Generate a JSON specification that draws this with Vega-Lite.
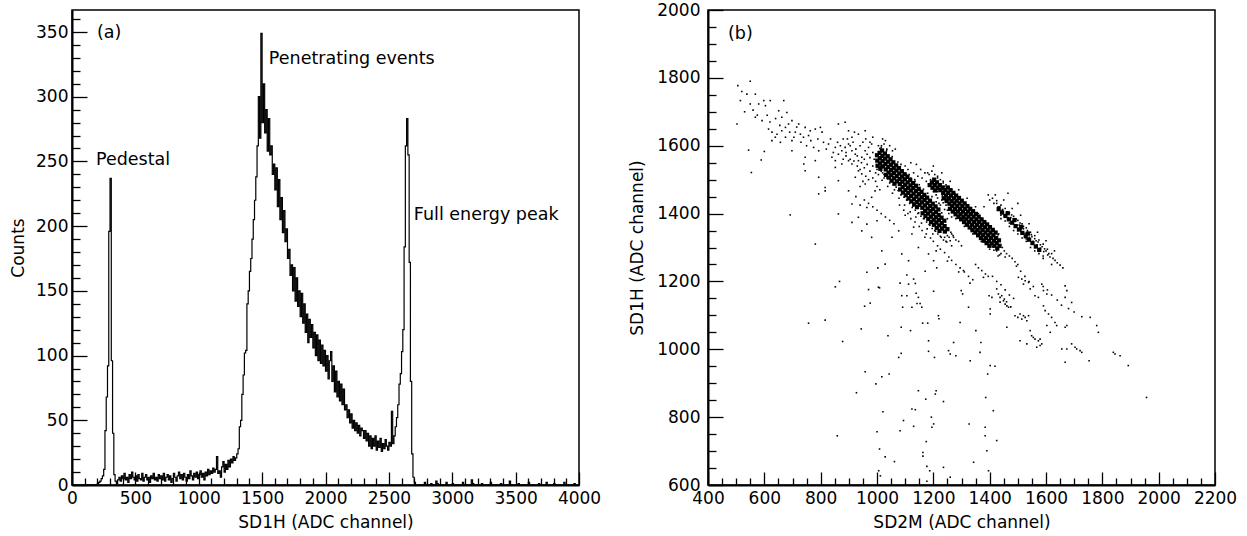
{
"$schema":"https://vega.github.io/schema/vega-lite/v6.json",
"padding":{"left":8,"top":0,"right":5,"bottom":0},
"background":"white",
"config":{"font":"DejaVu Sans","view":{"stroke":"black","strokeWidth":1.5},
"axis":{"grid":false,"domainColor":"black","domainWidth":2,"tickColor":"black","tickWidth":1.3,"labelColor":"black","titleColor":"black","labelFont":"DejaVu Sans","titleFont":"DejaVu Sans","labelFontSize":17,"titleFontSize":17,"titleFontWeight":"normal","labelOverlap":false,"labelFlush":false}},
"bounds":"flush",
"spacing":129,
"hconcat":[
{"width":507,"height":475,
"resolve":{"axis":{"x":"independent","y":"independent"}},
"layer":[
{"data":{"values":[
{"ch":0,"n":0},{"ch":200,"n":1},{"ch":210,"n":2},{"ch":220,"n":3},{"ch":230,"n":5},{"ch":240,"n":7},{"ch":250,"n":12},{"ch":260,"n":42},{"ch":270,"n":68},{"ch":280,"n":92},{"ch":290,"n":196},{"ch":300,"n":237},{"ch":310,"n":96},{"ch":320,"n":40},{"ch":330,"n":8},{"ch":340,"n":3},{"ch":350,"n":1},{"ch":360,"n":4},{"ch":370,"n":6},{"ch":380,"n":3},{"ch":390,"n":7},{"ch":400,"n":5},{"ch":410,"n":9},{"ch":420,"n":4},{"ch":430,"n":6},{"ch":440,"n":2},{"ch":450,"n":8},{"ch":460,"n":5},{"ch":470,"n":10},{"ch":480,"n":6},{"ch":490,"n":4},{"ch":500,"n":7},{"ch":510,"n":3},{"ch":520,"n":8},{"ch":530,"n":5},{"ch":540,"n":4},{"ch":550,"n":9},{"ch":560,"n":3},{"ch":570,"n":6},{"ch":580,"n":8},{"ch":590,"n":4},{"ch":600,"n":6},{"ch":610,"n":2},{"ch":620,"n":7},{"ch":630,"n":5},{"ch":640,"n":9},{"ch":650,"n":4},{"ch":660,"n":6},{"ch":670,"n":3},{"ch":680,"n":8},{"ch":690,"n":5},{"ch":700,"n":7},{"ch":710,"n":4},{"ch":720,"n":9},{"ch":730,"n":3},{"ch":740,"n":6},{"ch":750,"n":8},{"ch":760,"n":4},{"ch":770,"n":7},{"ch":780,"n":2},{"ch":790,"n":5},{"ch":800,"n":9},{"ch":810,"n":6},{"ch":820,"n":3},{"ch":830,"n":7},{"ch":840,"n":10},{"ch":850,"n":5},{"ch":860,"n":8},{"ch":870,"n":4},{"ch":880,"n":9},{"ch":890,"n":6},{"ch":900,"n":3},{"ch":910,"n":8},{"ch":920,"n":5},{"ch":930,"n":11},{"ch":940,"n":7},{"ch":950,"n":4},{"ch":960,"n":9},{"ch":970,"n":6},{"ch":980,"n":10},{"ch":990,"n":5},{"ch":1000,"n":8},{"ch":1010,"n":11},{"ch":1020,"n":6},{"ch":1030,"n":9},{"ch":1040,"n":4},{"ch":1050,"n":10},{"ch":1060,"n":7},{"ch":1070,"n":12},{"ch":1080,"n":8},{"ch":1090,"n":11},{"ch":1100,"n":9},{"ch":1110,"n":13},{"ch":1120,"n":10},{"ch":1130,"n":12},{"ch":1140,"n":22},{"ch":1150,"n":9},{"ch":1160,"n":11},{"ch":1170,"n":6},{"ch":1180,"n":14},{"ch":1190,"n":18},{"ch":1200,"n":10},{"ch":1210,"n":16},{"ch":1220,"n":12},{"ch":1230,"n":19},{"ch":1240,"n":14},{"ch":1250,"n":20},{"ch":1260,"n":17},{"ch":1270,"n":22},{"ch":1280,"n":19},{"ch":1290,"n":21},{"ch":1300,"n":24},{"ch":1310,"n":28},{"ch":1320,"n":45},{"ch":1330,"n":50},{"ch":1340,"n":70},{"ch":1350,"n":85},{"ch":1360,"n":102},{"ch":1370,"n":104},{"ch":1380,"n":140},{"ch":1390,"n":150},{"ch":1400,"n":165},{"ch":1410,"n":175},{"ch":1420,"n":190},{"ch":1430,"n":205},{"ch":1440,"n":220},{"ch":1450,"n":238},{"ch":1460,"n":262},{"ch":1470,"n":300},{"ch":1480,"n":268},{"ch":1490,"n":349},{"ch":1500,"n":280},{"ch":1510,"n":310},{"ch":1520,"n":272},{"ch":1530,"n":290},{"ch":1540,"n":258},{"ch":1550,"n":283},{"ch":1560,"n":255},{"ch":1570,"n":262},{"ch":1580,"n":240},{"ch":1590,"n":248},{"ch":1600,"n":228},{"ch":1610,"n":245},{"ch":1620,"n":215},{"ch":1630,"n":236},{"ch":1640,"n":205},{"ch":1650,"n":222},{"ch":1660,"n":195},{"ch":1670,"n":212},{"ch":1680,"n":188},{"ch":1690,"n":198},{"ch":1700,"n":175},{"ch":1710,"n":182},{"ch":1720,"n":162},{"ch":1730,"n":170},{"ch":1740,"n":150},{"ch":1750,"n":168},{"ch":1760,"n":142},{"ch":1770,"n":160},{"ch":1780,"n":138},{"ch":1790,"n":150},{"ch":1800,"n":130},{"ch":1810,"n":148},{"ch":1820,"n":125},{"ch":1830,"n":140},{"ch":1840,"n":118},{"ch":1850,"n":132},{"ch":1860,"n":110},{"ch":1870,"n":128},{"ch":1880,"n":114},{"ch":1890,"n":124},{"ch":1900,"n":106},{"ch":1910,"n":118},{"ch":1920,"n":100},{"ch":1930,"n":116},{"ch":1940,"n":96},{"ch":1950,"n":112},{"ch":1960,"n":94},{"ch":1970,"n":108},{"ch":1980,"n":92},{"ch":1990,"n":104},{"ch":2000,"n":88},{"ch":2010,"n":100},{"ch":2020,"n":82},{"ch":2030,"n":96},{"ch":2040,"n":103},{"ch":2050,"n":80},{"ch":2060,"n":92},{"ch":2070,"n":72},{"ch":2080,"n":88},{"ch":2090,"n":68},{"ch":2100,"n":80},{"ch":2110,"n":65},{"ch":2120,"n":78},{"ch":2130,"n":62},{"ch":2140,"n":74},{"ch":2150,"n":58},{"ch":2160,"n":62},{"ch":2170,"n":52},{"ch":2180,"n":58},{"ch":2190,"n":48},{"ch":2200,"n":55},{"ch":2210,"n":44},{"ch":2220,"n":50},{"ch":2230,"n":42},{"ch":2240,"n":48},{"ch":2250,"n":40},{"ch":2260,"n":46},{"ch":2270,"n":38},{"ch":2280,"n":44},{"ch":2290,"n":42},{"ch":2300,"n":36},{"ch":2310,"n":42},{"ch":2320,"n":34},{"ch":2330,"n":40},{"ch":2340,"n":30},{"ch":2350,"n":38},{"ch":2360,"n":28},{"ch":2370,"n":36},{"ch":2380,"n":30},{"ch":2390,"n":38},{"ch":2400,"n":27},{"ch":2410,"n":34},{"ch":2420,"n":29},{"ch":2430,"n":36},{"ch":2440,"n":26},{"ch":2450,"n":32},{"ch":2460,"n":28},{"ch":2470,"n":35},{"ch":2480,"n":30},{"ch":2490,"n":27},{"ch":2500,"n":33},{"ch":2510,"n":30},{"ch":2520,"n":57},{"ch":2530,"n":32},{"ch":2540,"n":38},{"ch":2550,"n":45},{"ch":2560,"n":52},{"ch":2570,"n":62},{"ch":2580,"n":78},{"ch":2590,"n":86},{"ch":2600,"n":103},{"ch":2610,"n":120},{"ch":2620,"n":184},{"ch":2630,"n":262},{"ch":2640,"n":283},{"ch":2650,"n":255},{"ch":2660,"n":172},{"ch":2670,"n":80},{"ch":2680,"n":24},{"ch":2690,"n":6},{"ch":2700,"n":2},{"ch":2710,"n":0},{"ch":2780,"n":2},{"ch":2790,"n":0},{"ch":2830,"n":1},{"ch":2840,"n":0},{"ch":2870,"n":3},{"ch":2880,"n":1},{"ch":2890,"n":0},{"ch":2950,"n":2},{"ch":2960,"n":0},{"ch":3000,"n":1},{"ch":3010,"n":0},{"ch":3080,"n":2},{"ch":3090,"n":0},{"ch":3150,"n":4},{"ch":3160,"n":1},{"ch":3170,"n":0},{"ch":3230,"n":1},{"ch":3240,"n":0},{"ch":3300,"n":2},{"ch":3310,"n":0},{"ch":3380,"n":1},{"ch":3390,"n":0},{"ch":3450,"n":3},{"ch":3460,"n":0},{"ch":3520,"n":1},{"ch":3530,"n":0},{"ch":3600,"n":2},{"ch":3610,"n":0},{"ch":3680,"n":1},{"ch":3690,"n":0},{"ch":3740,"n":2},{"ch":3750,"n":0},{"ch":3800,"n":1},{"ch":3810,"n":0},{"ch":3880,"n":2},{"ch":3890,"n":0},{"ch":3960,"n":1},{"ch":3970,"n":0},{"ch":4000,"n":0}
]},
"mark":{"type":"line","interpolate":"step-after","color":"black","strokeWidth":1.2},
"encoding":{
"x":{"field":"ch","type":"quantitative","scale":{"domain":[0,4000],"nice":false,"zero":false},
"axis":{"orient":"bottom","title":"SD1H (ADC channel)","format":"d","labelOverlap":false,"tickCount":200,"tickSize":-13,"values":[0,500,1000,1500,2000,2500,3000,3500,4000],"labelPadding":18,"titlePadding":8}},
"y":{"field":"n","type":"quantitative","scale":{"domain":[0,367],"nice":false},
"axis":{"orient":"left","title":"Counts","format":"d","labelOverlap":false,"tickCount":200,"tickSize":-15,"values":[0,50,100,150,200,250,300,350],"labelPadding":19,"titlePadding":8}}}},
{"data":{"values":[{"ch":197,"n":345,"label":"(a)"},{"ch":189,"n":247,"label":"Pedestal"},{"ch":1553,"n":325,"label":"Penetrating events"},{"ch":2697,"n":205,"label":"Full energy peak"}]},
"mark":{"type":"text","align":"left","baseline":"alphabetic","fontSize":17.5,"font":"DejaVu Sans","color":"black"},
"encoding":{
"x":{"field":"ch","type":"quantitative","axis":{"orient":"bottom","title":null,"labels":false,"domain":false,"tickCount":200,"tickSize":-7,"values":[100,200,300,400,600,700,800,900,1100,1200,1300,1400,1600,1700,1800,1900,2100,2200,2300,2400,2600,2700,2800,2900,3100,3200,3300,3400,3600,3700,3800,3900]}},
"y":{"field":"n","type":"quantitative","axis":{"orient":"left","title":null,"labels":false,"domain":false,"tickCount":200,"tickSize":-8,"values":[10,20,30,40,60,70,80,90,110,120,130,140,160,170,180,190,210,220,230,240,260,270,280,290,310,320,330,340,360]}},
"text":{"field":"label"}}}
]},
{"width":507,"height":475,
"resolve":{"axis":{"x":"independent","y":"independent"}},
"layer":[
{"data":{"values":[
{"x":506,"y":1777},{"x":550,"y":1790},{"x":538,"y":1752},{"x":515,"y":1733},{"x":550,"y":1723},{"x":568,"y":1752},{"x":580,"y":1723},{"x":598,"y":1733},{"x":604,"y":1718},{"x":621,"y":1733},{"x":568,"y":1684},{"x":592,"y":1674},{"x":503,"y":1664},{"x":544,"y":1587},{"x":600,"y":1583},{"x":589,"y":1558},{"x":554,"y":1521},{"x":615,"y":1649},{"x":627,"y":1640},{"x":645,"y":1634},{"x":662,"y":1644},{"x":675,"y":1654},{"x":686,"y":1664},{"x":698,"y":1674},{"x":651,"y":1703},{"x":669,"y":1733},{"x":680,"y":1698},{"x":662,"y":1684},{"x":639,"y":1625},{"x":675,"y":1625},{"x":698,"y":1615},{"x":627,"y":1615},{"x":657,"y":1610},{"x":722,"y":1664},{"x":745,"y":1654},{"x":763,"y":1644},{"x":728,"y":1634},{"x":710,"y":1640},{"x":739,"y":1625},{"x":757,"y":1630},{"x":781,"y":1649},{"x":799,"y":1654},{"x":805,"y":1640},{"x":698,"y":1585},{"x":745,"y":1566},{"x":781,"y":1556},{"x":793,"y":1585},{"x":828,"y":1605},{"x":852,"y":1595},{"x":863,"y":1664},{"x":887,"y":1669},{"x":899,"y":1644},{"x":911,"y":1625},{"x":934,"y":1634},{"x":958,"y":1644},{"x":740,"y":1546},{"x":745,"y":1526},{"x":793,"y":1507},{"x":816,"y":1477},{"x":793,"y":1458},{"x":840,"y":1566},{"x":852,"y":1556},{"x":863,"y":1575},{"x":875,"y":1585},{"x":887,"y":1595},{"x":899,"y":1605},{"x":911,"y":1585},{"x":923,"y":1575},{"x":852,"y":1536},{"x":875,"y":1546},{"x":899,"y":1556},{"x":911,"y":1546},{"x":934,"y":1556},{"x":946,"y":1566},{"x":958,"y":1585},{"x":970,"y":1595},{"x":981,"y":1605},{"x":863,"y":1497},{"x":899,"y":1467},{"x":923,"y":1507},{"x":934,"y":1526},{"x":946,"y":1517},{"x":958,"y":1487},{"x":911,"y":1428},{"x":934,"y":1389},{"x":964,"y":1418},{"x":981,"y":1448},{"x":993,"y":1467},{"x":816,"y":1467},{"x":692,"y":1396},{"x":781,"y":1310},{"x":863,"y":1399},{"x":911,"y":1374},{"x":964,"y":1369},{"x":1000,"y":1379},{"x":981,"y":1330},{"x":1017,"y":1290},{"x":1053,"y":1330},{"x":1077,"y":1349},{"x":1124,"y":1340},{"x":1147,"y":1300},{"x":1183,"y":1281},{"x":1201,"y":1261},{"x":1088,"y":1281},{"x":1112,"y":1261},{"x":1029,"y":1251},
{"x":520,"y":1760},{"x":530,"y":1700},{"x":560,"y":1705},{"x":575,"y":1690},{"x":610,"y":1690},{"x":620,"y":1670},{"x":640,"y":1680},{"x":655,"y":1660},{"x":690,"y":1640},{"x":705,"y":1625},{"x":715,"y":1655},{"x":730,"y":1610},{"x":750,"y":1600},{"x":765,"y":1615},{"x":775,"y":1595},{"x":790,"y":1620},{"x":810,"y":1610},{"x":820,"y":1590},{"x":835,"y":1620},{"x":845,"y":1580},{"x":860,"y":1610},{"x":870,"y":1600},{"x":880,"y":1620},{"x":890,"y":1580},{"x":905,"y":1600},{"x":915,"y":1610},{"x":925,"y":1590},{"x":940,"y":1600},{"x":950,"y":1610},{"x":960,"y":1620},{"x":975,"y":1610},{"x":985,"y":1625},{"x":920,"y":1640},{"x":895,"y":1620},{"x":880,"y":1560},{"x":890,"y":1570},{"x":905,"y":1560},{"x":918,"y":1555},{"x":930,"y":1570},{"x":945,"y":1550},{"x":955,"y":1560},{"x":965,"y":1575},{"x":975,"y":1565},{"x":985,"y":1580},{"x":990,"y":1560},{"x":930,"y":1540},{"x":940,"y":1530},{"x":955,"y":1535},{"x":965,"y":1545},{"x":975,"y":1525},{"x":985,"y":1540},{"x":995,"y":1520},{"x":960,"y":1510},{"x":970,"y":1500},{"x":985,"y":1505},{"x":995,"y":1495},{"x":950,"y":1495},{"x":940,"y":1480},{"x":1000,"y":1480},{"x":1010,"y":1470},{"x":1005,"y":1600},{"x":1015,"y":1595},{"x":1025,"y":1605},{"x":1035,"y":1590},{"x":1045,"y":1600},{"x":1055,"y":1585},{"x":1065,"y":1590},{"x":1030,"y":1615},{"x":1020,"y":1620},
{"x":1000,"y":1530},{"x":1005,"y":1515},{"x":1012,"y":1540},{"x":1020,"y":1520},{"x":1025,"y":1505},{"x":1018,"y":1498},{"x":1030,"y":1528},{"x":1040,"y":1505},{"x":1045,"y":1490},{"x":1038,"y":1480},{"x":1050,"y":1512},{"x":1060,"y":1488},{"x":1062,"y":1470},{"x":1068,"y":1495},{"x":1055,"y":1460},{"x":1080,"y":1470},{"x":1085,"y":1455},{"x":1078,"y":1445},{"x":1090,"y":1478},{"x":1100,"y":1452},{"x":1105,"y":1440},{"x":1098,"y":1425},{"x":1110,"y":1460},{"x":1120,"y":1435},{"x":1125,"y":1418},{"x":1118,"y":1405},{"x":1130,"y":1440},{"x":1140,"y":1418},{"x":1145,"y":1400},{"x":1138,"y":1390},{"x":1150,"y":1425},{"x":1160,"y":1400},{"x":1165,"y":1385},{"x":1158,"y":1372},{"x":1170,"y":1405},{"x":1180,"y":1383},{"x":1185,"y":1368},{"x":1178,"y":1355},{"x":1190,"y":1388},{"x":1200,"y":1365},{"x":1205,"y":1350},{"x":1198,"y":1340},{"x":1210,"y":1370},{"x":1220,"y":1348},{"x":1225,"y":1333},{"x":1230,"y":1352},{"x":1240,"y":1330},{"x":1245,"y":1318},{"x":1250,"y":1335},{"x":1260,"y":1320},{"x":1265,"y":1305},{"x":1270,"y":1335},
{"x":1080,"y":1425},{"x":1095,"y":1410},{"x":1110,"y":1400},{"x":1120,"y":1385},{"x":1135,"y":1375},{"x":1150,"y":1362},{"x":1160,"y":1350},{"x":1175,"y":1340},{"x":1190,"y":1328},{"x":1200,"y":1318},{"x":1215,"y":1305},{"x":1225,"y":1295},{"x":1240,"y":1285},{"x":1255,"y":1272},{"x":1265,"y":1262},{"x":1280,"y":1250},{"x":1295,"y":1240},{"x":1310,"y":1228},{"x":1325,"y":1215},{"x":1340,"y":1205},{"x":1100,"y":1395},{"x":1130,"y":1360},{"x":1170,"y":1330},{"x":1210,"y":1290},{"x":1250,"y":1260},{"x":1290,"y":1228},{"x":1330,"y":1195},{"x":1265,"y":1340},{"x":1272,"y":1330},{"x":1280,"y":1322},{"x":1290,"y":1318},{"x":1300,"y":1305},
{"x":1070,"y":1540},{"x":1090,"y":1525},{"x":1105,"y":1515},{"x":1120,"y":1505},{"x":1135,"y":1495},{"x":1150,"y":1485},{"x":1165,"y":1472},{"x":1180,"y":1460},{"x":1195,"y":1450},{"x":1210,"y":1435},{"x":1225,"y":1425},{"x":1240,"y":1412},{"x":1255,"y":1400},{"x":1265,"y":1390},{"x":1110,"y":1530},{"x":1130,"y":1520},{"x":1145,"y":1510},{"x":1160,"y":1505},{"x":1175,"y":1495},{"x":1085,"y":1545},{"x":1100,"y":1540},{"x":1120,"y":1550},{"x":1140,"y":1545},{"x":1155,"y":1530},{"x":1170,"y":1520},{"x":1185,"y":1515},
{"x":1180,"y":1520},{"x":1195,"y":1525},{"x":1205,"y":1515},{"x":1215,"y":1510},{"x":1225,"y":1500},{"x":1235,"y":1495},{"x":1245,"y":1485},{"x":1255,"y":1478},{"x":1265,"y":1470},{"x":1275,"y":1462},{"x":1285,"y":1452},{"x":1295,"y":1445},{"x":1310,"y":1432},{"x":1325,"y":1420},{"x":1340,"y":1408},{"x":1355,"y":1398},{"x":1370,"y":1385},{"x":1385,"y":1375},{"x":1400,"y":1362},{"x":1415,"y":1350},{"x":1430,"y":1338},{"x":1200,"y":1540},{"x":1230,"y":1520},{"x":1260,"y":1495},{"x":1290,"y":1470},{"x":1320,"y":1445},{"x":1350,"y":1420},
{"x":1200,"y":1465},{"x":1210,"y":1455},{"x":1230,"y":1440},{"x":1245,"y":1425},{"x":1260,"y":1415},{"x":1275,"y":1405},{"x":1290,"y":1395},{"x":1305,"y":1383},{"x":1320,"y":1372},{"x":1335,"y":1360},{"x":1350,"y":1348},{"x":1365,"y":1338},{"x":1380,"y":1325},{"x":1395,"y":1315},{"x":1410,"y":1302},{"x":1425,"y":1290},{"x":1440,"y":1282},{"x":1455,"y":1272},{"x":1220,"y":1430},{"x":1250,"y":1410},{"x":1280,"y":1385},{"x":1310,"y":1362},{"x":1340,"y":1340},{"x":1370,"y":1318},{"x":1400,"y":1295},{"x":1430,"y":1275},
{"x":1190,"y":1500},{"x":1198,"y":1488},{"x":1205,"y":1495},{"x":1212,"y":1480},{"x":1220,"y":1488},{"x":1228,"y":1475},{"x":1235,"y":1470},{"x":1240,"y":1480},{"x":1250,"y":1465},{"x":1215,"y":1465},{"x":1205,"y":1470},{"x":1200,"y":1478},{"x":1245,"y":1445},{"x":1255,"y":1440},{"x":1232,"y":1452},
{"x":1445,"y":1300},{"x":1452,"y":1290},{"x":1460,"y":1282},{"x":1470,"y":1275},{"x":1480,"y":1268},{"x":1490,"y":1258},{"x":1500,"y":1250},
{"x":1400,"y":1440},{"x":1410,"y":1445},{"x":1415,"y":1430},{"x":1425,"y":1438},{"x":1430,"y":1420},{"x":1440,"y":1425},{"x":1445,"y":1410},{"x":1455,"y":1415},{"x":1460,"y":1400},{"x":1470,"y":1402},{"x":1475,"y":1388},{"x":1485,"y":1392},{"x":1490,"y":1378},{"x":1500,"y":1380},{"x":1505,"y":1366},{"x":1515,"y":1370},{"x":1520,"y":1355},{"x":1530,"y":1358},{"x":1535,"y":1345},{"x":1545,"y":1345},{"x":1550,"y":1332},{"x":1560,"y":1335},{"x":1565,"y":1320},{"x":1575,"y":1322},{"x":1580,"y":1308},{"x":1590,"y":1310},{"x":1595,"y":1296},{"x":1605,"y":1295},{"x":1610,"y":1282},{"x":1620,"y":1282},{"x":1625,"y":1268},{"x":1632,"y":1262},{"x":1640,"y":1255},{"x":1650,"y":1248},{"x":1660,"y":1240},{"x":1395,"y":1455},{"x":1420,"y":1455},{"x":1450,"y":1440},{"x":1480,"y":1415},{"x":1510,"y":1395},{"x":1540,"y":1370},{"x":1570,"y":1345},{"x":1600,"y":1320},{"x":1630,"y":1290},{"x":1440,"y":1395},{"x":1470,"y":1372},{"x":1500,"y":1350},{"x":1530,"y":1325},{"x":1560,"y":1300},{"x":1590,"y":1275},{"x":1620,"y":1250},{"x":1380,"y":1420},{"x":1360,"y":1400},{"x":1465,"y":1460},{"x":1500,"y":1430},
{"x":1425,"y":1430},{"x":1436,"y":1420},{"x":1446,"y":1412},{"x":1452,"y":1396},{"x":1462,"y":1405},{"x":1466,"y":1388},{"x":1478,"y":1396},{"x":1482,"y":1378},{"x":1494,"y":1384},{"x":1498,"y":1366},{"x":1508,"y":1372},{"x":1512,"y":1352},{"x":1520,"y":1362},{"x":1526,"y":1342},{"x":1534,"y":1350},{"x":1540,"y":1330},{"x":1548,"y":1338},{"x":1554,"y":1318},{"x":1560,"y":1326},{"x":1568,"y":1308},{"x":1572,"y":1316},{"x":1580,"y":1298},{"x":1586,"y":1302},{"x":1592,"y":1288},{"x":1600,"y":1290},{"x":1606,"y":1278},{"x":1614,"y":1272},{"x":1440,"y":1385},{"x":1455,"y":1378},{"x":1470,"y":1362},{"x":1485,"y":1350},{"x":1500,"y":1340},{"x":1515,"y":1328},{"x":1530,"y":1318},{"x":1545,"y":1300},{"x":1560,"y":1290},{"x":1575,"y":1282},{"x":1590,"y":1268},
{"x":1010,"y":1592},{"x":1016,"y":1600},{"x":1030,"y":1576},{"x":1034,"y":1585},{"x":1050,"y":1560},{"x":1054,"y":1568},{"x":1074,"y":1552},{"x":1090,"y":1528},{"x":1094,"y":1520},{"x":1110,"y":1508},{"x":1114,"y":1515},{"x":1130,"y":1492},{"x":1134,"y":1500},{"x":1150,"y":1475},{"x":1154,"y":1470},{"x":1170,"y":1457},{"x":1174,"y":1450},{"x":1190,"y":1440},{"x":1210,"y":1420},{"x":1230,"y":1402},{"x":1250,"y":1385},
{"x":1005,"y":1535},{"x":1015,"y":1525},{"x":1025,"y":1515},{"x":1035,"y":1505},{"x":1048,"y":1495},{"x":1058,"y":1485},{"x":1068,"y":1478},{"x":1075,"y":1468},{"x":1088,"y":1458},{"x":1096,"y":1448},{"x":1108,"y":1440},{"x":1116,"y":1430},{"x":1128,"y":1422},{"x":1136,"y":1410},{"x":1148,"y":1402},{"x":1156,"y":1392},{"x":1168,"y":1385},{"x":1176,"y":1375},{"x":1188,"y":1366},{"x":1196,"y":1356},{"x":1208,"y":1348},{"x":1216,"y":1340},{"x":1228,"y":1330},{"x":1236,"y":1322},{"x":1248,"y":1316},{"x":1256,"y":1330},{"x":1262,"y":1345},
{"x":1215,"y":1505},{"x":1235,"y":1490},{"x":1255,"y":1475},{"x":1275,"y":1458},{"x":1295,"y":1443},{"x":1315,"y":1428},{"x":1335,"y":1412},{"x":1355,"y":1398},{"x":1375,"y":1382},{"x":1395,"y":1366},{"x":1415,"y":1352},{"x":1432,"y":1340},{"x":1215,"y":1446},{"x":1235,"y":1432},{"x":1255,"y":1415},{"x":1275,"y":1400},{"x":1295,"y":1385},{"x":1315,"y":1370},{"x":1335,"y":1353},{"x":1355,"y":1338},{"x":1375,"y":1322},{"x":1395,"y":1308},{"x":1415,"y":1292},{"x":1435,"y":1278},
{"x":757,"y":1077},{"x":816,"y":1086},{"x":852,"y":1184},{"x":867,"y":1200},{"x":878,"y":1023},{"x":859,"y":745},{"x":927,"y":872},{"x":944,"y":1060},{"x":958,"y":934},{"x":964,"y":1227},{"x":970,"y":1176},{"x":956,"y":1127},{"x":976,"y":1136},{"x":1003,"y":1240},{"x":1009,"y":1181},{"x":996,"y":898},{"x":1000,"y":757},{"x":1009,"y":706},{"x":1021,"y":816},{"x":1029,"y":683},{"x":1017,"y":919},{"x":1039,"y":1040},{"x":1043,"y":927},{"x":1006,"y":642},{"x":1012,"y":627},{"x":1062,"y":669},{"x":1077,"y":976},{"x":1082,"y":1195},{"x":1088,"y":1158},{"x":1091,"y":1124},{"x":1086,"y":1065},{"x":1086,"y":988},{"x":1094,"y":790},{"x":1082,"y":760},{"x":1106,"y":1219},{"x":1106,"y":1158},{"x":1112,"y":1192},{"x":1119,"y":1055},{"x":1130,"y":1207},{"x":1136,"y":1194},{"x":1139,"y":1165},{"x":1147,"y":1153},{"x":1153,"y":1135},{"x":1159,"y":1124},{"x":1142,"y":1135},{"x":1124,"y":1124},{"x":1130,"y":773},{"x":1124,"y":824},{"x":1136,"y":822},{"x":1147,"y":878},{"x":1162,"y":1077},{"x":1173,"y":853},{"x":1177,"y":611},{"x":1180,"y":1077},{"x":1183,"y":1025},{"x":1183,"y":994},{"x":1175,"y":728},{"x":1163,"y":696},{"x":1163,"y":685},{"x":1171,"y":1230},{"x":1201,"y":1171},{"x":1195,"y":770},{"x":1201,"y":780},{"x":1193,"y":800},{"x":1207,"y":868},{"x":1187,"y":642},{"x":1177,"y":655},{"x":1204,"y":976},{"x":1210,"y":878},{"x":1212,"y":1240},
{"x":1218,"y":1099},{"x":1220,"y":1090},{"x":1236,"y":846},{"x":1236,"y":652},{"x":1254,"y":996},{"x":1260,"y":986},{"x":1260,"y":623},{"x":1272,"y":1020},{"x":1280,"y":981},{"x":1295,"y":1079},{"x":1299,"y":1173},{"x":1304,"y":1163},{"x":1307,"y":1232},{"x":1325,"y":1124},{"x":1327,"y":780},{"x":1331,"y":966},{"x":1343,"y":667},{"x":1351,"y":1055},{"x":1366,"y":991},{"x":1369,"y":1020},{"x":1378,"y":1212},{"x":1384,"y":770},{"x":1384,"y":745},{"x":1386,"y":858},{"x":1390,"y":701},{"x":1393,"y":927},{"x":1396,"y":642},{"x":1398,"y":1158},{"x":1402,"y":952},{"x":1413,"y":819},{"x":1419,"y":950},{"x":1425,"y":731},{"x":1402,"y":1119},{"x":1408,"y":1153},{"x":1402,"y":1104},
{"x":1425,"y":1178},{"x":1431,"y":1163},{"x":1437,"y":1153},{"x":1443,"y":1158},{"x":1449,"y":1143},{"x":1455,"y":1133},{"x":1461,"y":1128},{"x":1467,"y":1124},{"x":1437,"y":1139},{"x":1452,"y":1148},{"x":1461,"y":1065},
{"x":1490,"y":1099},{"x":1500,"y":1094},{"x":1508,"y":1104},{"x":1514,"y":1089},{"x":1526,"y":1094},{"x":1532,"y":1084},{"x":1538,"y":1099},{"x":1520,"y":1099},{"x":1508,"y":1025},{"x":1532,"y":1016},{"x":1544,"y":1055},{"x":1549,"y":1040},{"x":1555,"y":1035},{"x":1561,"y":1030},{"x":1573,"y":1025},{"x":1579,"y":1011},
{"x":1502,"y":1212},{"x":1514,"y":1207},{"x":1526,"y":1202},{"x":1538,"y":1197},{"x":1520,"y":1192},{"x":1544,"y":1178},{"x":1561,"y":1158},{"x":1573,"y":1153},{"x":1591,"y":1128},{"x":1597,"y":1114},{"x":1609,"y":1104},{"x":1620,"y":1094},{"x":1632,"y":1079},{"x":1638,"y":1070},{"x":1668,"y":1065},{"x":1674,"y":1070},{"x":1591,"y":1173},{"x":1603,"y":1163},{"x":1585,"y":1192},{"x":1668,"y":1187},{"x":1674,"y":1173},{"x":1691,"y":1138},{"x":1668,"y":1153},
{"x":1656,"y":1001},{"x":1674,"y":1001},{"x":1691,"y":1016},{"x":1703,"y":1006},{"x":1709,"y":1001},{"x":1721,"y":996},{"x":1727,"y":991},{"x":1668,"y":962},{"x":1727,"y":1096},{"x":1757,"y":1094},{"x":1753,"y":966},{"x":1780,"y":1070},{"x":1786,"y":1050},{"x":1839,"y":991},{"x":1845,"y":986},{"x":1863,"y":981},{"x":1892,"y":952},{"x":1957,"y":858},{"x":1603,"y":1070},{"x":1615,"y":1050},{"x":1579,"y":1030},{"x":1585,"y":1016},{"x":1567,"y":1006},
{"x":1350,"y":1250},{"x":1360,"y":1240},{"x":1372,"y":1232},{"x":1385,"y":1222},{"x":1395,"y":1215},{"x":1410,"y":1215},{"x":1425,"y":1200},{"x":1440,"y":1190},{"x":1455,"y":1175},{"x":1470,"y":1160},{"x":1485,"y":1150},{"x":1460,"y":1140},{"x":1475,"y":1125},{"x":1495,"y":1245},{"x":1510,"y":1230},{"x":1525,"y":1215},{"x":1540,"y":1200},{"x":1555,"y":1185},{"x":1590,"y":1185},{"x":1605,"y":1175},{"x":1620,"y":1160},{"x":1640,"y":1145},{"x":1655,"y":1130},{"x":1680,"y":1120},{"x":1700,"y":1110},{"x":946,"y":1349},{"x":1005,"y":1183},{"x":925,"y":1450},{"x":940,"y":1425},{"x":955,"y":1440},{"x":970,"y":1430},{"x":985,"y":1420},{"x":1000,"y":1410},{"x":1015,"y":1400},{"x":1030,"y":1390},{"x":1045,"y":1380},{"x":1060,"y":1370}
]},
"mark":{"type":"square","size":2.5,"color":"black","opacity":1},
"encoding":{
"x":{"field":"x","type":"quantitative","scale":{"domain":[400,2200],"nice":false,"zero":false},
"axis":{"orient":"bottom","title":"SD2M (ADC channel)","format":"d","labelOverlap":false,"tickCount":200,"tickSize":-13,"values":[400,600,800,1000,1200,1400,1600,1800,2000,2200],"labelPadding":18,"titlePadding":8}},
"y":{"field":"y","type":"quantitative","scale":{"domain":[600,2000],"nice":false,"zero":false},
"axis":{"orient":"left","title":"SD1H (ADC channel)","format":"d","labelOverlap":false,"tickCount":200,"tickSize":-15,"values":[600,800,1000,1200,1400,1600,1800,2000],"labelPadding":23,"titlePadding":10}}}},
{"data":{"values":[
{"x":1000,"y":1572},{"x":1010,"y":1563},{"x":1020,"y":1555},{"x":1030,"y":1546},{"x":1040,"y":1537},{"x":1050,"y":1528},{"x":1060,"y":1520},{"x":1070,"y":1511},{"x":1080,"y":1502},{"x":1090,"y":1494},{"x":1100,"y":1485},{"x":1110,"y":1476},{"x":1120,"y":1468},{"x":1130,"y":1459},{"x":1140,"y":1450},{"x":1150,"y":1441},{"x":1160,"y":1433},{"x":1170,"y":1424},{"x":1180,"y":1415},{"x":1190,"y":1407},{"x":1200,"y":1398},{"x":1210,"y":1389},{"x":1220,"y":1381},{"x":1230,"y":1372},{"x":1240,"y":1363},{"x":1250,"y":1354},
{"x":1009,"y":1579},{"x":1019,"y":1570},{"x":1029,"y":1562},{"x":1039,"y":1553},{"x":1049,"y":1544},{"x":1059,"y":1535},{"x":1069,"y":1527},{"x":1079,"y":1518},{"x":1089,"y":1509},{"x":1099,"y":1501},{"x":1109,"y":1492},{"x":1119,"y":1483},{"x":1129,"y":1475},{"x":1139,"y":1466},{"x":1149,"y":1457},{"x":1159,"y":1448},{"x":1169,"y":1440},{"x":1179,"y":1431},{"x":1189,"y":1422},{"x":1199,"y":1414},{"x":1209,"y":1405},{"x":1219,"y":1396},{"x":1229,"y":1388},{"x":1239,"y":1379},
{"x":1001,"y":1556},{"x":1011,"y":1548},{"x":1021,"y":1539},{"x":1031,"y":1530},{"x":1041,"y":1521},{"x":1051,"y":1513},{"x":1061,"y":1504},{"x":1071,"y":1495},{"x":1081,"y":1487},{"x":1091,"y":1478},{"x":1101,"y":1469},{"x":1111,"y":1461},{"x":1121,"y":1452},{"x":1131,"y":1443},{"x":1141,"y":1434},{"x":1151,"y":1426},{"x":1161,"y":1417},{"x":1171,"y":1408},{"x":1181,"y":1400},{"x":1191,"y":1391},{"x":1201,"y":1382},{"x":1211,"y":1374},{"x":1221,"y":1365},{"x":1231,"y":1356},{"x":1241,"y":1347},
{"x":1018,"y":1586},{"x":1028,"y":1577},{"x":1038,"y":1569},{"x":1048,"y":1560},{"x":1058,"y":1551},{"x":1068,"y":1542},{"x":1078,"y":1534},{"x":1088,"y":1525},{"x":1098,"y":1516},{"x":1108,"y":1508},{"x":1118,"y":1499},{"x":1128,"y":1490},{"x":1138,"y":1482},{"x":1148,"y":1473},{"x":1158,"y":1464},{"x":1168,"y":1455},{"x":1178,"y":1447},{"x":1188,"y":1438},{"x":1198,"y":1429},{"x":1208,"y":1421},{"x":1218,"y":1412},
{"x":1002,"y":1541},{"x":1012,"y":1532},{"x":1032,"y":1514},{"x":1042,"y":1506},{"x":1052,"y":1497},{"x":1062,"y":1488},{"x":1082,"y":1471},{"x":1092,"y":1462},{"x":1102,"y":1454},{"x":1112,"y":1445},{"x":1122,"y":1436},{"x":1132,"y":1427},{"x":1142,"y":1419},{"x":1162,"y":1401},{"x":1172,"y":1393},{"x":1182,"y":1384},{"x":1192,"y":1375},{"x":1202,"y":1367},{"x":1212,"y":1358},{"x":1222,"y":1349},
{"x":1195,"y":1492},{"x":1205,"y":1484},{"x":1215,"y":1476},{"x":1225,"y":1469},{"x":1235,"y":1461},{"x":1245,"y":1453},{"x":1255,"y":1445},{"x":1265,"y":1437},{"x":1275,"y":1430},{"x":1285,"y":1422},{"x":1295,"y":1414},{"x":1305,"y":1406},{"x":1315,"y":1398},{"x":1325,"y":1391},{"x":1335,"y":1383},{"x":1345,"y":1375},{"x":1355,"y":1367},{"x":1365,"y":1359},{"x":1375,"y":1352},{"x":1385,"y":1344},{"x":1395,"y":1336},{"x":1405,"y":1328},{"x":1415,"y":1320},{"x":1425,"y":1313},{"x":1435,"y":1305},
{"x":1203,"y":1500},{"x":1213,"y":1492},{"x":1223,"y":1484},{"x":1233,"y":1477},{"x":1243,"y":1469},{"x":1253,"y":1461},{"x":1263,"y":1453},{"x":1273,"y":1445},{"x":1283,"y":1438},{"x":1293,"y":1430},{"x":1303,"y":1422},{"x":1313,"y":1414},{"x":1323,"y":1406},{"x":1333,"y":1399},{"x":1343,"y":1391},{"x":1353,"y":1383},{"x":1363,"y":1375},{"x":1373,"y":1367},{"x":1383,"y":1360},{"x":1393,"y":1352},{"x":1403,"y":1344},{"x":1413,"y":1336},{"x":1423,"y":1328},{"x":1433,"y":1321},
{"x":1187,"y":1484},{"x":1197,"y":1476},{"x":1207,"y":1468},{"x":1237,"y":1445},{"x":1247,"y":1437},{"x":1257,"y":1429},{"x":1267,"y":1422},{"x":1277,"y":1414},{"x":1287,"y":1406},{"x":1297,"y":1398},{"x":1307,"y":1390},{"x":1317,"y":1383},{"x":1327,"y":1375},{"x":1337,"y":1367},{"x":1347,"y":1359},{"x":1357,"y":1351},{"x":1367,"y":1344},{"x":1377,"y":1336},{"x":1387,"y":1328},{"x":1397,"y":1320},{"x":1407,"y":1312},{"x":1417,"y":1305},{"x":1427,"y":1297},
{"x":1251,"y":1477},{"x":1261,"y":1469},{"x":1271,"y":1461},{"x":1281,"y":1453},{"x":1291,"y":1446},{"x":1301,"y":1438},{"x":1311,"y":1430},{"x":1321,"y":1422},{"x":1331,"y":1414},{"x":1341,"y":1407},{"x":1351,"y":1399},{"x":1361,"y":1391},{"x":1371,"y":1383},{"x":1381,"y":1375},{"x":1391,"y":1368},{"x":1401,"y":1360},{"x":1411,"y":1352},{"x":1421,"y":1344},
{"x":1259,"y":1414},{"x":1269,"y":1406},{"x":1279,"y":1398},{"x":1289,"y":1390},{"x":1299,"y":1383},{"x":1309,"y":1375},{"x":1319,"y":1367},{"x":1329,"y":1359},{"x":1339,"y":1351},{"x":1349,"y":1344},{"x":1359,"y":1336},{"x":1369,"y":1328},{"x":1379,"y":1320},{"x":1389,"y":1313},{"x":1399,"y":1305},
{"x":1432,"y":1413},{"x":1444,"y":1403},{"x":1456,"y":1393},{"x":1468,"y":1383},{"x":1480,"y":1373},{"x":1492,"y":1363},{"x":1504,"y":1353},{"x":1516,"y":1343},{"x":1528,"y":1333},{"x":1540,"y":1323},{"x":1552,"y":1313},{"x":1564,"y":1303},{"x":1576,"y":1293},{"x":1464,"y":1401},{"x":1488,"y":1381},{"x":1512,"y":1361},{"x":1536,"y":1341}
]},
"mark":{"type":"square","size":18,"color":"black","opacity":1},
"encoding":{"x":{"field":"x","type":"quantitative","axis":null},"y":{"field":"y","type":"quantitative","axis":null}}},
{"data":{"values":[{"x":471,"y":1914,"label":"(b)"}]},
"mark":{"type":"text","align":"left","baseline":"alphabetic","fontSize":17.5,"font":"DejaVu Sans","color":"black"},
"encoding":{
"x":{"field":"x","type":"quantitative","axis":{"orient":"bottom","title":null,"labels":false,"domain":false,"tickCount":200,"tickSize":-7,"values":[450,500,550,650,700,750,850,900,950,1050,1100,1150,1250,1300,1350,1450,1500,1550,1650,1700,1750,1850,1900,1950,2050,2100,2150]}},
"y":{"field":"y","type":"quantitative","axis":{"orient":"left","title":null,"labels":false,"domain":false,"tickCount":200,"tickSize":-8,"values":[650,700,750,850,900,950,1050,1100,1150,1250,1300,1350,1450,1500,1550,1650,1700,1750,1850,1900,1950]}},
"text":{"field":"label"}}}
]}
]}
